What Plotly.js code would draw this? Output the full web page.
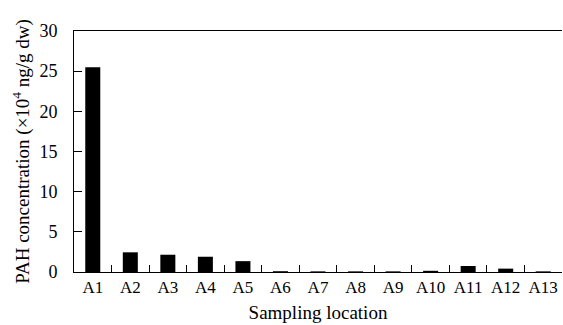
<!DOCTYPE html>
<html>
<head>
<meta charset="utf-8">
<script src="https://cdn.plot.ly/plotly-3.0.1.min.js"></script>
<style>html,body{margin:0;padding:0;background:#fff;}#chart{width:563px;height:325px;}</style>
</head>
<body>
<div id="chart"></div>
<script>
const locations = ["A1","A2","A3","A4","A5","A6","A7","A8","A9","A10","A11","A12","A13"];
const pahConc = [25.5, 2.45, 2.15, 1.9, 1.35, 0.1, 0.08, 0.08, 0.08, 0.15, 0.75, 0.42, 0.08];
const yTicks = [0, 5, 10, 15, 20, 25, 30];

const font = "'Liberation Serif', 'Times New Roman', serif";
Plotly.newPlot('chart', [{
  type: 'bar',
  x: locations,
  y: pahConc,
  marker: {color: '#000000', line: {width: 0}},
  hoverinfo: 'none'
}], {
  width: 563, height: 325,
  margin: {l: 74, r: 1, t: 31, b: 53},
  paper_bgcolor: '#fff', plot_bgcolor: '#fff',
  bargap: 0.6,
  showlegend: false,
  font: {family: font, color: '#000'},
  xaxis: {
    type: 'category',
    tickangle: 0,
    showline: true, linecolor: '#000', linewidth: 1, mirror: true,
    ticks: 'inside', tickson: 'boundaries', ticklen: 7, tickcolor: '#000', tickwidth: 1,
    tickfont: {family: font, size: 17, color: '#000'},
    showgrid: false, zeroline: false,
    title: {text: 'Sampling location', font: {family: font, size: 19, color: '#000'}, standoff: 9}
  },
  yaxis: {
    range: [0, 30],
    tickvals: yTicks,
    showline: true, linecolor: '#000', linewidth: 1, mirror: false,
    ticks: 'inside', ticklen: 8, tickcolor: '#000', tickwidth: 1,
    ticklabelstandoff: 12,
    tickfont: {family: font, size: 18, color: '#000'},
    showgrid: false, zeroline: false,
    title: {text: 'PAH concentration (×10<sup>4</sup> ng/g dw)', font: {family: font, size: 19, color: '#000'}, standoff: 4}
  }
}, {staticPlot: true, displayModeBar: false});
</script>
</body>
</html>
